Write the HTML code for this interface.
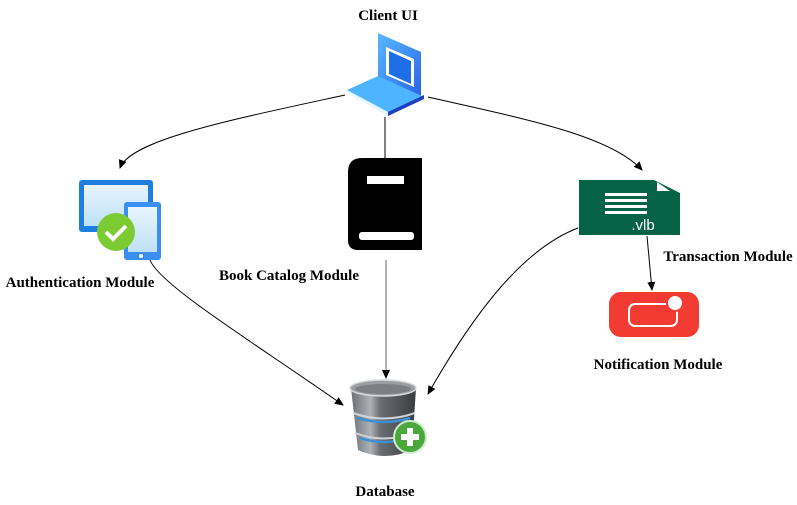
<!DOCTYPE html>
<html><head><meta charset="utf-8"><style>
html,body{margin:0;padding:0;background:#fff;width:797px;height:505px;overflow:hidden}
svg text{font-family:"Liberation Serif",serif;font-weight:bold;font-size:15px;fill:#000}
</style></head><body>
<svg width="797" height="505" viewBox="0 0 797 505" xmlns="http://www.w3.org/2000/svg">
<defs>
<marker id="a" markerWidth="10" markerHeight="10" refX="8" refY="5" orient="auto" markerUnits="userSpaceOnUse"><path d="M0,1 L9,5 L0,9 Z" fill="#000"/></marker>
<linearGradient id="lp" x1="0" y1="0" x2="1" y2="1"><stop offset="0" stop-color="#5ab8ff"/><stop offset="1" stop-color="#2a66e8"/></linearGradient>
<linearGradient id="scr" x1="0" y1="0" x2="0" y2="1"><stop offset="0" stop-color="#e8f5ff"/><stop offset="1" stop-color="#bfe0f7"/></linearGradient>
<linearGradient id="db" x1="0" y1="0" x2="1" y2="0"><stop offset="0" stop-color="#6c6f74"/><stop offset="0.3" stop-color="#aeb2b7"/><stop offset="0.45" stop-color="#6a6d72"/><stop offset="1" stop-color="#3a3c40"/></linearGradient>
</defs>
<path d="M345,95 C230,120 130,140 120,168" fill="none" stroke="#000" stroke-width="1" marker-end="url(#a)"/>
<path d="M428,97 C520,118 610,135 642,170" fill="none" stroke="#000" stroke-width="1" marker-end="url(#a)"/>
<line x1="385" y1="117" x2="385" y2="158" stroke="#000"/>
<line x1="386" y1="260" x2="386" y2="378" stroke="#666" marker-end="url(#a)"/>
<path d="M150,260 C160,285 250,340 343,405" fill="none" stroke="#000" marker-end="url(#a)"/>
<path d="M578,228 C520,250 470,320 428,394" fill="none" stroke="#000" marker-end="url(#a)"/>
<path d="M647,236 L652,290" fill="none" stroke="#000" marker-end="url(#a)"/>
<text x="388" y="20" text-anchor="middle">Client UI</text>
<polygon points="378,33 421,52 421,96 378,77" fill="url(#lp)"/>
<polygon points="386,47 414,59 414,87 386,75" fill="#fff"/>
<polygon points="389,51 411,61 411,84 389,74" fill="#1e6ee8"/>
<polygon points="347,90 378,76 424,97 388,116" fill="#4fb4ff"/>
<polygon points="347,90 388,112 388,116 347,93" fill="#e6f4ff"/>
<polygon points="388,112 424,95 424,99 388,116" fill="#1e3fc0"/>
<path d="M362,158 H422 V250 H358 Q348,250 348,240 V172 Q348,158 362,158 Z" fill="#000"/>
<rect x="367" y="176" width="37" height="8" fill="#fff"/>
<rect x="359" y="232" width="55" height="8" rx="3" fill="#fff"/>
<text x="289" y="280" text-anchor="middle">Book Catalog Module</text>
<rect x="79" y="180" width="74" height="52" rx="3" fill="#1e7fe0"/>
<rect x="84" y="185" width="64" height="41" fill="url(#scr)"/>
<rect x="124" y="202" width="37" height="58" rx="3" fill="#3b8ff0"/>
<rect x="128" y="207" width="29" height="45" fill="url(#scr)"/>
<circle cx="141" cy="256" r="2" fill="#fff"/>
<circle cx="116" cy="232" r="19" fill="#7ccb32"/>
<path d="M106,232 L113,239 L126,226" fill="none" stroke="#fff" stroke-width="4"/>
<text x="80" y="287" text-anchor="middle">Authentication Module</text>
<path d="M579,180 H654 L680,193 V235 H579 Z" fill="#076345"/>
<polygon points="657,182 670,191 657,191" fill="#fff"/>
<rect x="605" y="193" width="42" height="3" fill="#fff"/>
<rect x="605" y="199" width="42" height="3" fill="#fff"/>
<rect x="605" y="205" width="42" height="3" fill="#fff"/>
<rect x="605" y="211" width="42" height="3" fill="#fff"/>
<text x="643" y="230" text-anchor="middle" style="fill:#fff;font-family:'Liberation Sans',sans-serif;font-weight:normal;font-size:15px">.vlb</text>
<text x="728" y="261" text-anchor="middle">Transaction Module</text>
<rect x="609" y="292" width="90" height="45" rx="12" fill="#f23b32"/>
<rect x="629" y="304" width="48" height="22" rx="6" fill="none" stroke="#fff" stroke-width="2"/>
<circle cx="675" cy="303" r="8" fill="#fff" stroke="#f23b32" stroke-width="2"/>
<text x="658" y="369" text-anchor="middle">Notification Module</text>
<path d="M351,388 L358,450 Q385,462 412,450 L416,388 Z" fill="url(#db)"/>
<ellipse cx="383" cy="388" rx="33" ry="8" fill="#9a9ea3" stroke="#d8dbde" stroke-width="1.5"/>
<ellipse cx="383" cy="389" rx="28" ry="5" fill="#7c8085"/>
<path d="M353,413 Q384,424 415,413" fill="none" stroke="#d0d3d6" stroke-width="2"/>
<path d="M358,418 Q384,426 410,418" fill="none" stroke="#3f8fd6" stroke-width="2.5"/>
<path d="M355,433 Q384,444 413,433" fill="none" stroke="#d0d3d6" stroke-width="2"/>
<path d="M360,438 Q384,446 408,438" fill="none" stroke="#3f8fd6" stroke-width="2.5"/>
<circle cx="410" cy="437" r="16" fill="#4aa83a" stroke="#cfead0" stroke-width="2"/>
<rect x="407" y="428" width="6" height="18" fill="#fff"/>
<rect x="401" y="434" width="18" height="6" fill="#fff"/>
<text x="385" y="496" text-anchor="middle">Database</text>
</svg>
</body></html>
